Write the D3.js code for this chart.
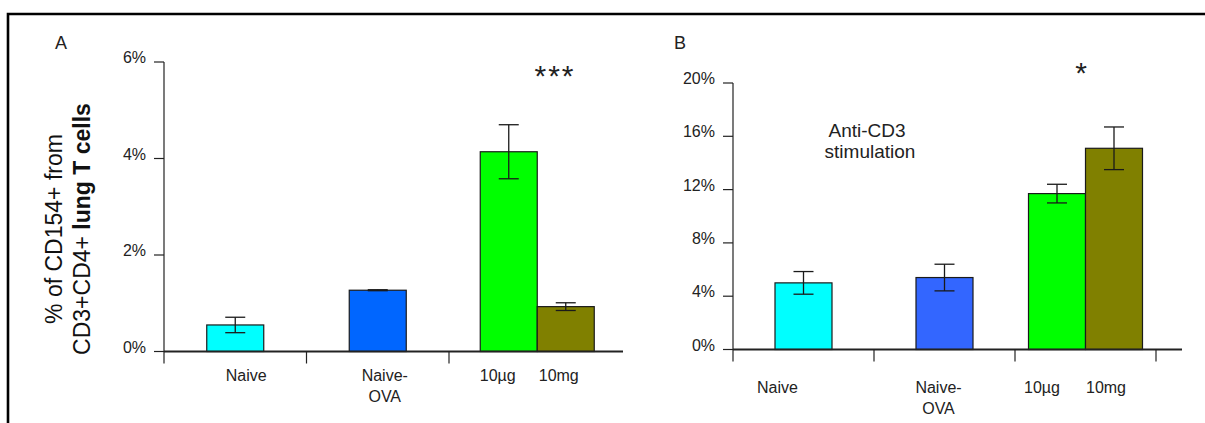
<!DOCTYPE html>
<html>
<head>
<meta charset="utf-8">
<script src="https://cdn.jsdelivr.net/npm/d3@7"></script>
<style>
  html, body { margin: 0; padding: 0; background: #fff; }
  svg { display: block; font-family: "Liberation Sans", Arial, sans-serif; }
</style>
</head>
<body>
<svg id="chart" width="1205" height="423"></svg>
<script>
// Bars (same order in both panels), and which x group each one sits in
var barNames = ["Naive", "Naive-OVA", "10µg", "10mg"];
var barGroups = [0, 1, 2, 2];
var groupNames = ["Naive", "Naive-OVA", "OVA dose"];
var barLabelLines = [["Naive"], ["Naive-", "OVA"], ["10µg"], ["10mg"]];

// Panel A: % of CD154+ from CD3+CD4+ lung T cells
var lungMeans = [0.55, 1.27, 4.14, 0.93];
var lungErrors = [0.16, 0.01, 0.56, 0.08];
var lungTicks = [0, 2, 4, 6];

// Panel B: anti-CD3 stimulation
var cd3Means = [5.0, 5.4, 11.7, 15.1];
var cd3Errors = [0.85, 1.0, 0.7, 1.6];
var cd3Ticks = [0, 4, 8, 12, 16, 20];

var svg = d3.select("#chart");

// outer frame (top and left edge only)
svg.append("path")
  .attr("d", "M8,423V14H1205")
  .attr("fill", "none")
  .attr("stroke", "#000")
  .attr("stroke-width", 2.6);

function drawPanel(p) {
  var g = svg.append("g");
  var y = d3.scaleLinear().domain(p.domain).range([p.y0, p.y1]);
  var x = d3.scaleBand().domain(d3.range(groupNames.length))
    .range([p.x0, p.x0 + p.step * groupNames.length]).padding(0);
  var bw = 57;

  function barX(i) {
    var gi = barGroups[i];
    var members = barGroups.filter(function (v) { return v === gi; }).length;
    var k = barGroups.slice(0, i).filter(function (v) { return v === gi; }).length;
    var c = x(gi) + x.bandwidth() / 2 + (members > 1 ? p.groupShift : 0);
    return c - (members * bw) / 2 + k * bw;
  }

  // y axis
  g.append("line")
    .attr("x1", p.x0).attr("x2", p.x0)
    .attr("y1", y(p.domain[1])).attr("y2", p.y0 + 12)
    .attr("stroke", "#222").attr("stroke-width", 1.2);

  g.selectAll(".ytick")
    .data(p.ticks)
    .join("line")
    .attr("x1", p.x0 - 10).attr("x2", p.x0)
    .attr("y1", function (d) { return y(d); })
    .attr("y2", function (d) { return y(d); })
    .attr("stroke", "#222").attr("stroke-width", 1.2);

  g.selectAll(".ylab")
    .data(p.ticks)
    .join("text")
    .attr("x", p.x0 - 18)
    .attr("y", function (d) { return y(d) + 1; })
    .attr("text-anchor", "end")
    .attr("font-size", 16)
    .attr("fill", "#222")
    .text(function (d) { return d + "%"; });

  // bars
  g.selectAll(".bar")
    .data(p.means)
    .join("rect")
    .attr("x", function (d, i) { return barX(i); })
    .attr("y", function (d) { return y(d); })
    .attr("width", bw)
    .attr("height", function (d) { return p.y0 - y(d); })
    .attr("fill", function (d, i) { return p.colors[i]; })
    .attr("stroke", "#1a1a1a")
    .attr("stroke-width", 1.2);

  // x axis
  g.append("line")
    .attr("x1", p.x0).attr("x2", p.axisEnd)
    .attr("y1", p.y0).attr("y2", p.y0)
    .attr("stroke", "#222").attr("stroke-width", 1.8);

  var xTicks = d3.range(1, groupNames.length + (p.endTick ? 1 : 0))
    .map(function (i) { return p.x0 + i * p.step; });
  g.selectAll(".xtick")
    .data(xTicks)
    .join("line")
    .attr("x1", function (d) { return d; }).attr("x2", function (d) { return d; })
    .attr("y1", p.y0).attr("y2", p.y0 + 12)
    .attr("stroke", "#222").attr("stroke-width", 1.2);

  // error bars
  var eb = g.selectAll(".err")
    .data(p.means.map(function (m, i) { return { m: m, e: p.errors[i], i: i }; }))
    .join("g");
  eb.append("line")
    .attr("x1", function (d) { return barX(d.i) + bw / 2; })
    .attr("x2", function (d) { return barX(d.i) + bw / 2; })
    .attr("y1", function (d) { return y(d.m + d.e); })
    .attr("y2", function (d) { return y(d.m - d.e); })
    .attr("stroke", "#1a1a1a").attr("stroke-width", 1.3);
  [1, -1].forEach(function (s) {
    eb.append("line")
      .attr("x1", function (d) { return barX(d.i) + bw / 2 - 10; })
      .attr("x2", function (d) { return barX(d.i) + bw / 2 + 10; })
      .attr("y1", function (d) { return y(d.m + s * d.e); })
      .attr("y2", function (d) { return y(d.m + s * d.e); })
      .attr("stroke", "#1a1a1a").attr("stroke-width", 1.3);
  });

  // category labels under the axis
  barLabelLines.forEach(function (lines, i) {
    var t = g.append("text")
      .attr("text-anchor", "middle")
      .attr("font-size", 16)
      .attr("fill", "#222");
    lines.forEach(function (line, li) {
      t.append("tspan")
        .attr("x", barX(i) + bw / 2 + p.labelDx[i])
        .attr("y", p.labelY + li * 21)
        .text(line);
    });
  });

  // panel letter
  g.append("text")
    .attr("x", p.letterX).attr("y", 49)
    .attr("text-anchor", "middle")
    .attr("font-size", 18)
    .attr("fill", "#222")
    .text(p.letter);

  // significance stars above the dose group
  g.append("text")
    .attr("x", p.starX).attr("y", p.starY)
    .attr("text-anchor", "middle")
    .attr("font-size", 30)
    .attr("letter-spacing", p.stars.length > 1 ? 2 : 0)
    .attr("fill", "#222")
    .text(p.stars);

  return g;
}

drawPanel({
  letter: "A", letterX: 61,
  domain: [0, 6], ticks: lungTicks, means: lungMeans, errors: lungErrors,
  colors: ["#00ffff", "#0066ff", "#00ff00", "#808000"],
  x0: 164, step: 142.5, axisEnd: 623, endTick: false, groupShift: 17,
  y0: 351.5, y1: 62,
  labelY: 381, labelDx: [11, 7, -11, -7],
  stars: "***", starX: 555, starY: 86
});

var gB = drawPanel({
  letter: "B", letterX: 680,
  domain: [0, 20], ticks: cd3Ticks, means: cd3Means, errors: cd3Errors,
  colors: ["#00ffff", "#3366ff", "#00ff00", "#808000"],
  x0: 733, step: 141, axisEnd: 1182, endTick: true, groupShift: 0,
  y0: 349.5, y1: 83,
  labelY: 393, labelDx: [-26, -6, -15, -8],
  stars: "*", starX: 1081, starY: 83
});

// y axis title of panel A
var yt = svg.append("text")
  .attr("transform", "translate(62,229) rotate(-90)")
  .attr("text-anchor", "middle")
  .attr("font-size", 23)
  .attr("fill", "#111");
yt.append("tspan").attr("x", 0).attr("y", 0).text("% of CD154+ from");
yt.append("tspan").attr("x", 0).attr("y", 28).text("CD3+CD4+ ");
yt.append("tspan").attr("font-weight", "bold").text("lung T cells");

// note in panel B
gB.append("text")
  .attr("text-anchor", "middle")
  .attr("font-size", 19)
  .attr("fill", "#222")
  .selectAll("tspan")
  .data(["Anti-CD3", "stimulation"])
  .join("tspan")
  .attr("x", function (d, i) { return i ? 870 : 867; })
  .attr("y", function (d, i) { return 137 + i * 21; })
  .text(function (d) { return d; });
</script>
</body>
</html>
